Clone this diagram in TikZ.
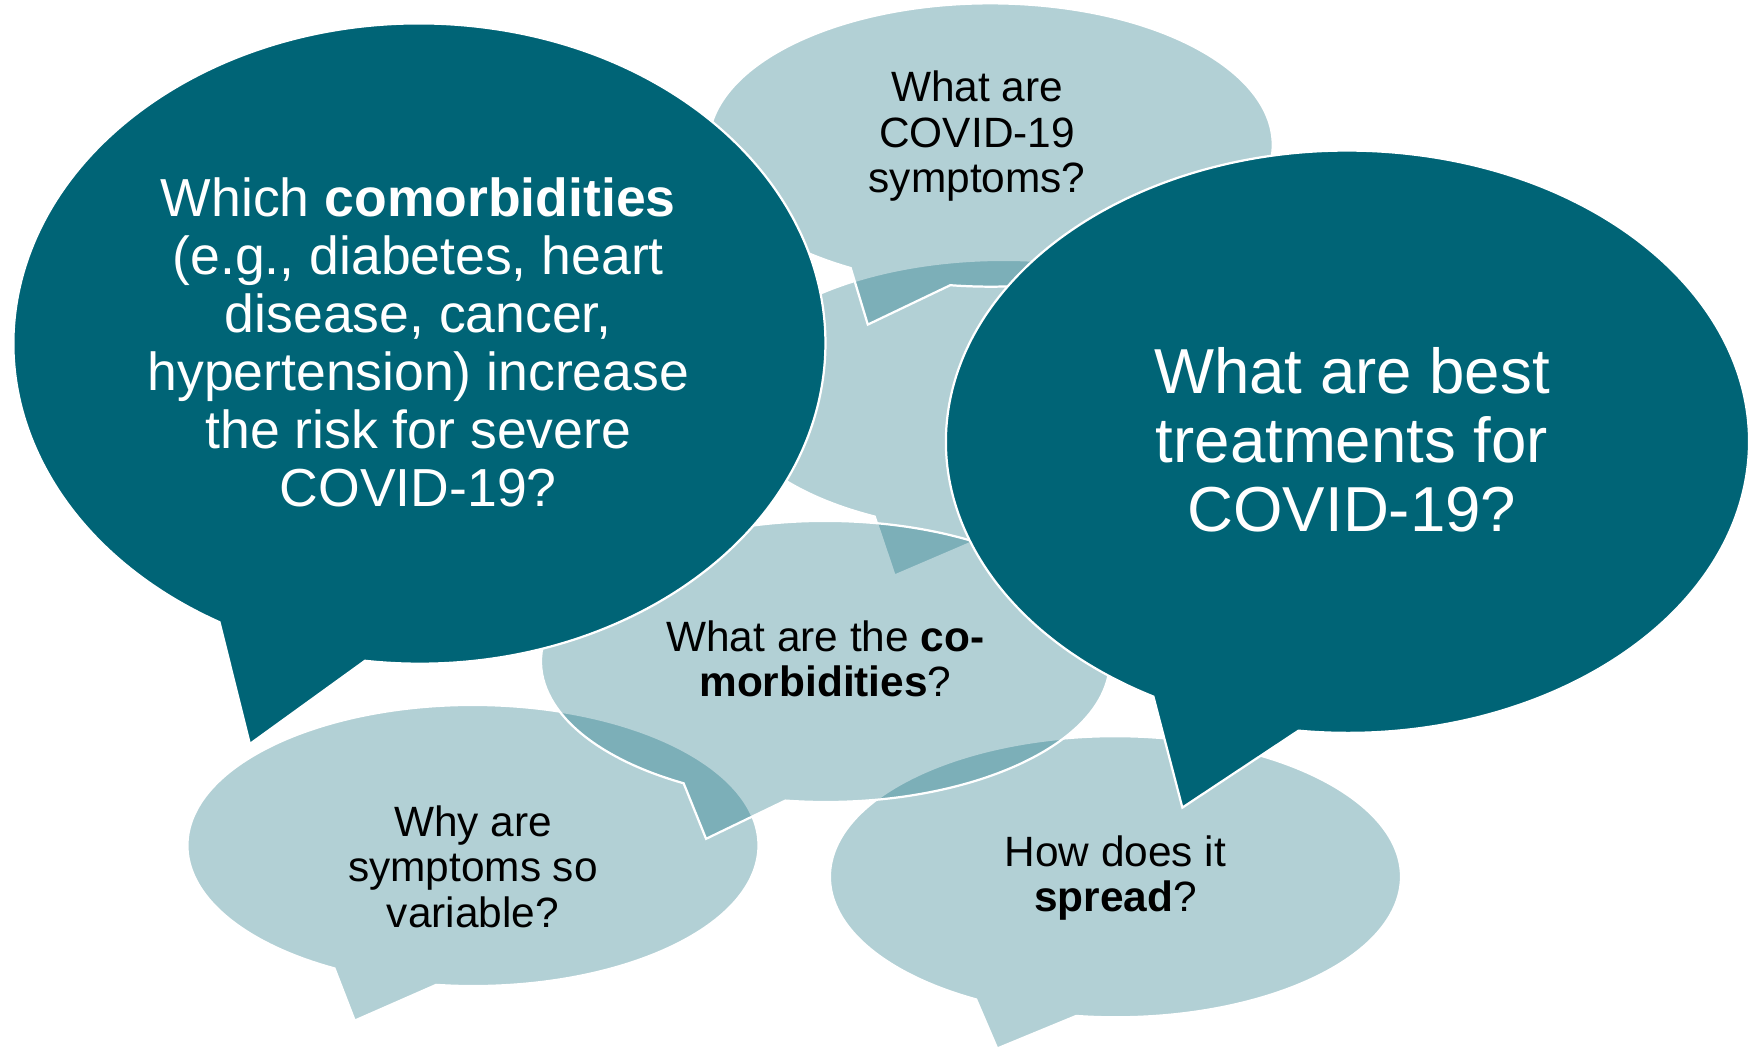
\documentclass[tikz,border=0pt]{standalone}
\usepackage{fontspec}
\setmainfont{Liberation Sans}
\usetikzlibrary{calc}
\definecolor{tealdark}{RGB}{0,100,118}
\newcommand\speechbubble[8]{\path[#1] (#2,#3) ++(#6:#4 and #5) arc[start angle=#6, end angle=#7, x radius=#4, y radius=#5] -- #8 -- cycle;}
\tikzset{
  lightbubble/.style={fill=tealdark, fill opacity=0.3, draw=white, draw opacity=1, line width=2pt, line join=miter},
  darkbubble/.style={fill=tealdark, draw=white, line width=2pt, line join=miter},
  smalltext/.style={align=center, text=black, inner sep=0pt, font=\fontsize{38}{40.5}\selectfont},
  bigtext/.style={align=center, text=white, inner sep=0pt, font=\fontsize{48}{52}\selectfont},
  hugetext/.style={align=center, text=white, inner sep=0pt, font=\fontsize{57}{62}\selectfont},
}
\begin{document}
\begin{tikzpicture}[x=1pt,y=1pt]
\useasboundingbox (0,0) rectangle (1568,938);
\fill[white] (0,0) rectangle (1568,938);
% hidden central bubble
\speechbubble{lightbubble}{900}{583}{250}{122}{268.4}{602.4}{(802,422)}
% symptoms bubble
\speechbubble{lightbubble}{888}{808}{253}{127}{261.8}{600.3}{(778,647)}
% variable bubble
\speechbubble{lightbubble}{424}{180}{256}{126}{262.6}{601}{(318,23)}
% spread bubble
\speechbubble{lightbubble}{1000}{152}{256}{126}{262.1}{600.8}{(894,-2)}
% co-morbidities bubble
\speechbubble{lightbubble}{740}{345}{255}{126}{261.9}{600.1}{(633,186)}
% left dark bubble
\speechbubble{darkbubble}{376}{630}{364}{287}{262.3}{600.5}{(224,271)}
% right dark bubble
\speechbubble{darkbubble}{1208}{542}{360}{261}{263}{601.1}{(1060,214)}

\node[smalltext] (symptoms) at (876,816) {What are\\COVID-19\\symptoms?};
\node[smalltext] (comorb) at (740,347) {What are the \textbf{co-}\\\textbf{morbidities}?};
\node[smalltext] (variable) at (424,161) {Why are\\symptoms so\\variable?};
\node[smalltext] (spread) at (1000,151) {How does it\\\textbf{spread}?};
\node[bigtext] (risk) at (375,631) {Which \textbf{comorbidities}\\(e.g., diabetes, heart\\disease, cancer,\\hypertension) increase\\the risk for severe\\COVID-19?};
\node[hugetext] (treat) at (1212,544) {What are best\\treatments for\\COVID-19?};
\end{tikzpicture}
\end{document}
